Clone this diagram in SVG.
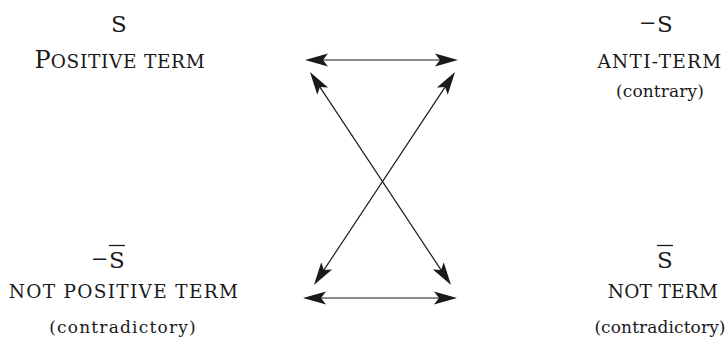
<svg xmlns="http://www.w3.org/2000/svg" width="725" height="345" viewBox="0 0 725 345">
  <style>
    text { fill: #1a1a1a; font-family: "DejaVu Serif", "Liberation Serif", serif; }
    .sym { font-size: 23px; }
    .dash { font-size: 21px; }
    .sc { font-size: 18.5px; letter-spacing: 1.3px; }
    .scp { font-size: 18.5px; letter-spacing: 0.7px; }
    .scn { font-size: 18.5px; letter-spacing: 0.3px; }
    .big { font-size: 24px; }
    .lc { font-size: 17px; letter-spacing: 0.1px; }
    .lcw { font-size: 17px; letter-spacing: 1.2px; }
    .conn { stroke: #1a1a1a; stroke-width: 1.2; fill: none; marker-start: url(#ah); marker-end: url(#ah); }
    .bar { stroke: #1a1a1a; stroke-width: 1.3; }
  </style>
  <defs>
    <marker id="ah" viewBox="-16 -8 28 16" refX="0" refY="0" markerWidth="28" markerHeight="16" markerUnits="userSpaceOnUse" orient="auto-start-reverse">
      <path d="M10,0 L-13,-6.5 L-8,0 L-13,6.5 Z" fill="#1a1a1a"/>
    </marker>
  </defs>

  <g id="node-positive-term">
    <text class="sym" x="119" y="32" text-anchor="middle">S</text>
    <text x="120" y="68" text-anchor="middle"><tspan class="big">P</tspan><tspan class="scp">OSITIVE TERM</tspan></text>
  </g>

  <g id="node-anti-term">
    <text class="sym"><tspan class="dash" x="639" y="30">−</tspan><tspan x="657" y="32">S</tspan></text>
    <text class="sc" x="660" y="68" text-anchor="middle">ANTI-TERM</text>
    <text class="lc" x="660" y="97" text-anchor="middle">(contrary)</text>
  </g>

  <g id="node-not-positive-term">
    <text class="sym"><tspan class="dash" x="91" y="266">−</tspan><tspan x="109" y="268">S</tspan></text>
    <line class="bar" x1="109" y1="245.5" x2="125" y2="245.5"/>
    <text class="sc" x="124" y="298" text-anchor="middle">NOT POSITIVE TERM</text>
    <text class="lcw" x="123" y="333" text-anchor="middle">(contradictory)</text>
  </g>

  <g id="node-not-term">
    <text class="sym" x="657" y="268">S</text>
    <line class="bar" x1="657" y1="245.5" x2="673" y2="245.5"/>
    <text class="scn" x="663" y="298" text-anchor="middle">NOT TERM</text>
    <text class="lc" x="660" y="333" text-anchor="middle">(contradictory)</text>
  </g>

  <g id="connectors">
    <line class="conn" x1="315" y1="60" x2="448" y2="60"/>
    <line class="conn" x1="313" y1="298" x2="447" y2="298"/>
    <line class="conn" x1="315.5" y1="80.3" x2="445.5" y2="276.7"/>
    <line class="conn" x1="449.5" y1="80.3" x2="319.5" y2="276.7"/>
  </g>
</svg>
